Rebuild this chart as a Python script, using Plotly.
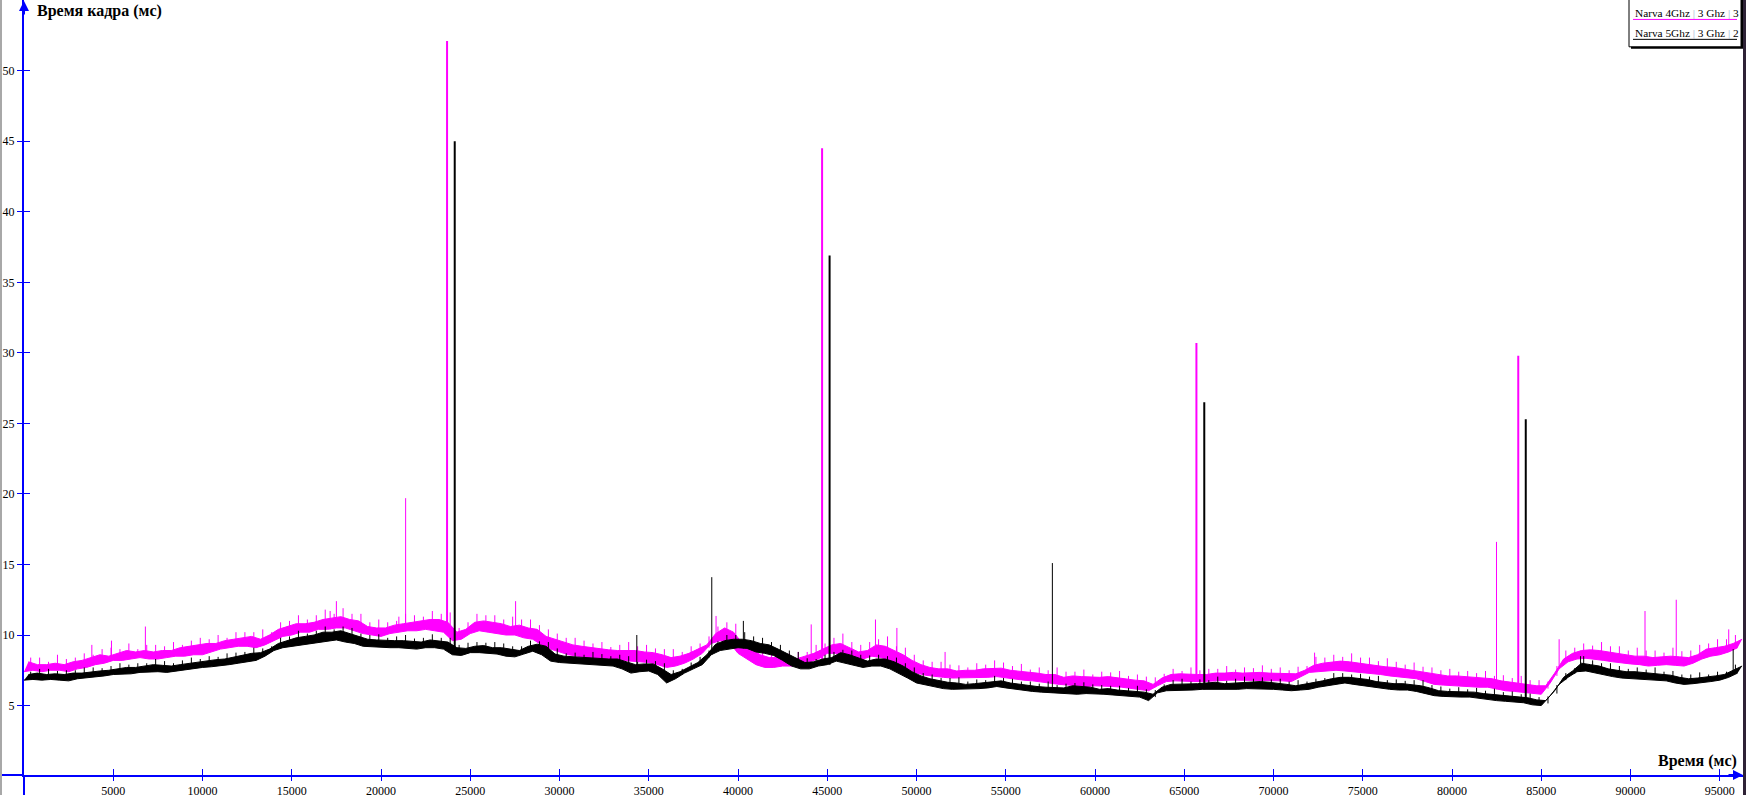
"""График времени кадра: два прогона Narva, Plotly."""

import plotly.graph_objects as go

SERIES_NAMES = ["Narva 4Ghz | 3 Ghz | 3", "Narva 5Ghz | 3 Ghz | 2"]
SERIES_COLORS = ["#ff00ff", "#000000"]

# сетка времени, мс: шаг 500, нижняя и верхняя граница полосы "шума"
T_STEP = 500
TIME_MS = list(range(0, 96001, T_STEP))

magenta_lo = [
    7.4, 7.5, 7.4, 7.5, 7.5, 7.4, 7.6, 7.7, 7.9, 8.0, 8.2, 8.2, 8.3, 8.4, 8.3, 8.3, 8.4, 8.5, 8.5, 8.6,
    8.6, 8.8, 9.0, 9.1, 9.2, 9.2, 9.1, 9.3, 9.6, 9.9, 10.0, 10.2, 10.2, 10.4, 10.4, 10.5, 10.5, 10.3, 10.1, 10.0,
    9.9, 10.1, 10.2, 10.3, 10.3, 10.4, 10.3, 10.2, 9.6, 9.7, 10.1, 10.3, 10.2, 10.1, 10.0, 10.0, 9.8, 9.7, 9.3, 9.0,
    8.8, 8.6, 8.5, 8.4, 8.3, 8.3, 8.2, 8.2, 8.15, 8.1, 8.05, 7.9, 7.7, 7.8, 8.0, 8.3, 8.7, 9.4, 9.6, 9.5,
    8.7, 8.3, 7.9, 7.7, 7.7, 7.8, 7.8, 8.0, 8.1, 8.3, 8.7, 8.7, 8.4, 8.2, 8.3, 8.5, 8.4, 8.2, 7.9, 7.6,
    7.3, 7.15, 7.05, 7.0, 6.95, 6.95, 7.0, 7.0, 7.0, 7.05, 6.95, 6.9, 6.8, 6.75, 6.65, 6.6, 6.5, 6.45, 6.4, 6.35,
    6.4, 6.4, 6.35, 6.3, 6.2, 6.15, 6.05, 6.4, 6.7, 6.75, 6.7, 6.7, 6.7, 6.75, 6.75, 6.8, 6.8, 6.8, 6.75, 6.75,
    6.75, 6.75, 6.7, 7.0, 7.35, 7.4, 7.45, 7.5, 7.45, 7.4, 7.3, 7.25, 7.2, 7.1, 7.05, 7.0, 6.9, 6.7, 6.5, 6.45,
    6.4, 6.4, 6.35, 6.3, 6.3, 6.15, 6.05, 6.0, 5.95, 5.85, 5.8, 6.6, 7.6, 8.1, 8.3, 8.35, 8.3, 8.2, 8.1, 8.0,
    7.95, 7.9, 7.8, 7.85, 7.9, 7.85, 7.8, 8.0, 8.3, 8.5, 8.6, 8.8, 9.1,
]
magenta_hi = [
    8.1, 7.9, 7.9, 8.0, 7.9, 8.1, 8.2, 8.4, 8.6, 8.5, 8.7, 8.9, 8.8, 8.9, 8.8, 8.9, 8.9, 9.1, 9.2, 9.3,
    9.4, 9.4, 9.6, 9.7, 9.8, 9.9, 9.7, 10.0, 10.4, 10.6, 10.8, 10.8, 10.9, 11.1, 11.2, 11.3, 11.1, 11.0, 10.6, 10.5,
    10.5, 10.7, 10.8, 10.9, 11.0, 11.1, 11.1, 10.9, 10.2, 10.4, 10.9, 11.0, 10.9, 10.8, 10.6, 10.7, 10.5, 10.4, 9.9, 9.7,
    9.5, 9.3, 9.2, 9.1, 9.0, 8.95, 8.9, 8.9, 8.9, 8.8, 8.75, 8.6, 8.4, 8.5, 8.7, 9.0, 9.3, 10.1, 10.5, 10.2,
    9.4, 9.0, 8.6, 8.4, 8.4, 8.3, 8.3, 8.5, 8.7, 9.0, 9.3, 9.4, 9.1, 8.8, 8.9, 9.3, 9.2, 8.9, 8.6, 8.2,
    7.9, 7.7, 7.6, 7.6, 7.45, 7.5, 7.5, 7.6, 7.6, 7.65, 7.5, 7.45, 7.35, 7.3, 7.2, 7.2, 7.0, 7.1, 7.05, 7.0,
    7.0, 7.05, 6.95, 6.9, 6.8, 6.75, 6.5, 6.95, 7.2, 7.25, 7.2, 7.2, 7.2, 7.3, 7.3, 7.35, 7.3, 7.35, 7.35, 7.3,
    7.3, 7.3, 7.25, 7.5, 7.85, 8.0, 8.1, 8.15, 8.1, 8.0, 7.9, 7.85, 7.75, 7.7, 7.6, 7.55, 7.45, 7.3, 7.2, 7.1,
    7.1, 7.05, 7.0, 6.95, 6.9, 6.75, 6.65, 6.6, 6.5, 6.4, 6.4, 7.3, 8.3, 8.7, 8.9, 8.95, 8.9, 8.8, 8.7, 8.6,
    8.5, 8.5, 8.4, 8.45, 8.5, 8.45, 8.4, 8.6, 9.0, 9.1, 9.2, 9.4, 9.7,
]
# высота мелких "волосков" над верхней границей полосы
magenta_hair = [
    0.3, 0.5, 0.2, 0.6, 0.4, 0.3, 0.5, 0.2, 0.4, 0.6, 0.3, 0.5, 0.2, 0.4, 0.5, 0.3, 0.6, 0.2, 0.4, 0.5,
    0.3, 0.6, 0.2, 0.5, 0.4, 0.3, 0.7, 0.2, 0.5, 0.4, 0.6, 0.3, 0.5, 0.7, 0.3, 0.6, 0.4, 0.5, 0.3, 0.6,
    0.4, 0.3, 0.7, 0.5, 0.3, 0.6, 0.4, 0.7, 0.3, 0.5, 0.6, 0.4, 0.5, 0.3, 0.7, 0.4, 0.6, 0.3, 0.5, 0.4,
    0.3, 0.5, 0.4, 0.3, 0.5, 0.2, 0.4, 0.6, 0.3, 0.5, 0.3, 0.4, 0.6, 0.3, 0.5, 0.4, 0.6, 0.5, 0.4, 0.6,
    0.3, 0.5, 0.4, 0.6, 0.3, 0.4, 0.5, 0.3, 0.6, 0.4, 0.5, 0.7, 0.4, 0.5, 0.6, 0.4, 0.7, 0.3, 0.5, 0.4,
    0.3, 0.4, 0.5, 0.3, 0.4, 0.2, 0.5, 0.3, 0.6, 0.4, 0.3, 0.5, 0.2, 0.4, 0.3, 0.5, 0.4, 0.3, 0.5, 0.2,
    0.4, 0.3, 0.5, 0.2, 0.4, 0.3, 0.5, 0.3, 0.4, 0.2, 0.5, 0.3, 0.4, 0.3, 0.5, 0.2, 0.4, 0.3, 0.5, 0.3,
    0.4, 0.2, 0.5, 0.3, 0.6, 0.4, 0.5, 0.3, 0.6, 0.4, 0.5, 0.3, 0.6, 0.4, 0.3, 0.5, 0.3, 0.4, 0.3, 0.5,
    0.3, 0.4, 0.3, 0.5, 0.2, 0.4, 0.3, 0.5, 0.3, 0.4, 0.3, 0.5, 0.6, 0.4, 0.5, 0.3, 0.6, 0.4, 0.5, 0.3,
    0.6, 0.4, 0.5, 0.3, 0.6, 0.4, 0.5, 0.7, 0.4, 0.6, 0.5, 0.6, 0.4,
]
black_lo = [
    6.8, 6.85, 6.8, 6.85, 6.8, 6.75, 6.9, 6.95, 7.0, 7.1, 7.2, 7.2, 7.25, 7.35, 7.4, 7.4, 7.35, 7.45, 7.55, 7.6,
    7.7, 7.75, 7.8, 7.9, 8.0, 8.1, 8.2, 8.5, 8.9, 9.1, 9.2, 9.3, 9.4, 9.5, 9.6, 9.65, 9.5, 9.4, 9.2, 9.15,
    9.1, 9.1, 9.1, 9.05, 9.0, 9.1, 9.1, 9.0, 8.6, 8.55, 8.75, 8.75, 8.7, 8.65, 8.5, 8.45, 8.65, 8.85, 8.6, 8.15,
    8.05, 8.0, 7.95, 7.95, 7.9, 7.85, 7.8, 7.6, 7.3, 7.4, 7.45, 7.2, 6.6, 6.9, 7.3, 7.6, 7.9, 8.6, 8.9, 9.0,
    9.1, 9.05, 8.8, 8.7, 8.55, 8.2, 7.8, 7.6, 7.6, 7.8, 7.9, 8.15, 8.0, 7.9, 7.7, 7.8, 7.8, 7.6, 7.3, 6.95,
    6.6, 6.45, 6.3, 6.2, 6.15, 6.15, 6.15, 6.2, 6.25, 6.35, 6.25, 6.15, 6.05, 6.0, 5.95, 5.9, 5.85, 5.85, 5.8, 5.85,
    5.85, 5.8, 5.75, 5.7, 5.65, 5.6, 5.35, 5.9, 6.05, 6.05, 6.05, 6.1, 6.15, 6.15, 6.1, 6.15, 6.15, 6.2, 6.2, 6.15,
    6.15, 6.1, 6.05, 6.1, 6.15, 6.3, 6.4, 6.55, 6.6, 6.5, 6.4, 6.3, 6.2, 6.15, 6.1, 6.1, 6.0, 5.85, 5.7, 5.65,
    5.6, 5.6, 5.6, 5.5, 5.45, 5.35, 5.3, 5.25, 5.2, 5.05, 5.0, 5.7, 6.5, 7.0, 7.4, 7.45, 7.3, 7.15, 7.05, 6.95,
    6.9, 6.9, 6.85, 6.8, 6.75, 6.6, 6.5, 6.55, 6.6, 6.7, 6.8, 7.0, 7.3,
]
black_hi = [
    7.2, 7.3, 7.2, 7.25, 7.2, 7.3, 7.3, 7.4, 7.45, 7.5, 7.6, 7.7, 7.7, 7.8, 7.9, 7.85, 7.8, 7.9, 8.0, 8.1,
    8.2, 8.25, 8.3, 8.45, 8.6, 8.7, 8.75, 9.0, 9.4, 9.6, 9.8, 9.9, 10.0, 10.2, 10.2, 10.3, 10.1, 9.9, 9.7, 9.65,
    9.6, 9.6, 9.6, 9.55, 9.5, 9.65, 9.6, 9.5, 9.1, 9.05, 9.2, 9.25, 9.1, 9.1, 9.0, 8.9, 9.2, 9.35, 9.2, 8.65,
    8.5, 8.45, 8.4, 8.4, 8.35, 8.3, 8.3, 8.1, 7.9, 7.95, 7.95, 7.6, 7.2, 7.4, 7.75, 8.05, 8.6, 9.35, 9.6, 9.7,
    9.7, 9.6, 9.4, 9.3, 9.0, 8.7, 8.4, 8.05, 8.1, 8.3, 8.4, 8.75, 8.6, 8.4, 8.15, 8.3, 8.3, 8.1, 7.8, 7.4,
    7.1, 6.9, 6.75, 6.65, 6.6, 6.5, 6.55, 6.6, 6.7, 6.75, 6.6, 6.5, 6.4, 6.35, 6.3, 6.25, 6.25, 6.4, 6.35, 6.3,
    6.15, 6.2, 6.1, 6.05, 6.0, 5.95, 5.8, 6.3, 6.5, 6.5, 6.5, 6.55, 6.6, 6.65, 6.55, 6.6, 6.65, 6.7, 6.7, 6.65,
    6.6, 6.5, 6.4, 6.5, 6.6, 6.75, 6.9, 7.0, 7.0, 6.95, 6.85, 6.7, 6.6, 6.55, 6.55, 6.5, 6.4, 6.25, 6.05, 6.0,
    6.0, 5.95, 5.95, 5.85, 5.8, 5.75, 5.7, 5.6, 5.55, 5.4, 5.35, 6.05, 7.0, 7.45, 8.0, 7.9, 7.8, 7.6, 7.5, 7.4,
    7.4, 7.35, 7.3, 7.2, 7.15, 7.0, 6.9, 6.95, 7.0, 7.1, 7.2, 7.5, 7.8,
]
black_hair = [
    0.2, 0.3, 0.4, 0.2, 0.3, 0.2, 0.4, 0.3, 0.2, 0.3, 0.4, 0.2, 0.3, 0.2, 0.4, 0.3, 0.2, 0.3, 0.4, 0.2,
    0.3, 0.2, 0.4, 0.3, 0.2, 0.4, 0.3, 0.2, 0.4, 0.3, 0.5, 0.2, 0.3, 0.4, 0.2, 0.3, 0.4, 0.2, 0.3, 0.4,
    0.2, 0.3, 0.4, 0.2, 0.3, 0.4, 0.2, 0.3, 0.2, 0.4, 0.3, 0.2, 0.4, 0.3, 0.2, 0.3, 0.4, 0.2, 0.3, 0.4,
    0.2, 0.3, 0.2, 0.4, 0.3, 0.2, 0.3, 0.4, 0.2, 0.3, 0.2, 0.4, 0.3, 0.2, 0.3, 0.4, 0.3, 0.2, 0.4, 0.3,
    0.5, 0.3, 0.4, 0.2, 0.3, 0.2, 0.4, 0.3, 0.2, 0.3, 0.4, 0.2, 0.3, 0.2, 0.4, 0.3, 0.2, 0.3, 0.2, 0.3,
    0.2, 0.3, 0.2, 0.3, 0.4, 0.2, 0.3, 0.2, 0.4, 0.2, 0.3, 0.2, 0.3, 0.2, 0.4, 0.2, 0.3, 0.2, 0.3, 0.2,
    0.3, 0.2, 0.3, 0.2, 0.4, 0.2, 0.3, 0.2, 0.3, 0.4, 0.2, 0.3, 0.2, 0.4, 0.2, 0.3, 0.4, 0.2, 0.3, 0.2,
    0.3, 0.2, 0.4, 0.2, 0.3, 0.2, 0.4, 0.3, 0.2, 0.3, 0.2, 0.4, 0.2, 0.3, 0.2, 0.3, 0.4, 0.2, 0.3, 0.2,
    0.3, 0.2, 0.3, 0.2, 0.4, 0.2, 0.3, 0.2, 0.3, 0.2, 0.3, 0.4, 0.3, 0.2, 0.5, 0.3, 0.2, 0.4, 0.3, 0.2,
    0.3, 0.2, 0.4, 0.2, 0.3, 0.2, 0.3, 0.4, 0.2, 0.3, 0.2, 0.4, 0.3,
]

# отдельные выбросы (пики), мс и значение
magenta_spike_t = [3800, 4900, 6800, 17150, 17500, 21000, 21380, 23700, 27540, 38770, 44100, 44710,
                   47700, 48900, 51600, 65680, 72300, 82490, 83710, 86000, 90810, 92560, 95500]
magenta_spike_v = [9.3, 9.6, 10.6, 11.7, 12.4, 11.3, 19.7, 52.1, 12.4, 11.35, 10.75, 44.5,
                   11.1, 10.5, 8.8, 30.7, 8.75, 16.6, 29.8, 9.7, 11.7, 12.5, 10.4]
black_spike_t = [24130, 34330, 38530, 40300, 45130, 57610, 66120, 84130, 87200, 95750]
black_spike_v = [45.0, 10.0, 14.1, 11.0, 36.9, 15.1, 26.5, 25.3, 8.5, 9.0]

X_TICKS = list(range(5000, 95001, 5000))
Y_TICKS = [5, 10, 15, 20, 25, 30, 35, 40, 45, 50]

W, H = 1746, 798
L, R, T, B = 24, 3, 0, 20
AXIS_BLUE = "#0000ff"
FONT = "Liberation Serif"


def px_x(px):
    return (px - L) / (W - L - R)


def px_y(py):
    return (H - B - py) / (H - T - B)


def add_series(fig, lo, hi, hair, spike_t, spike_v, name, color):
    """Полоса шума (заливка между lo и hi), волоски над ней и пики вертикальными штрихами."""
    fig.add_trace(go.Scatter(
        x=TIME_MS, y=lo, mode="lines", line=dict(color=color, width=1),
        hoverinfo="skip", showlegend=False,
    ))
    fig.add_trace(go.Scatter(
        x=[t + T_STEP // 2 for t in TIME_MS], y=hi, name=name, mode="lines",
        line=dict(color=color, width=1), fill="tonexty", fillcolor=color,
        hoverinfo="skip", showlegend=False,
    ))
    # волоски: штрих от верхней границы на величину hair
    hx, hy = [], []
    for t, h, d in zip(TIME_MS, hi, hair):
        hx += [t + 3 * T_STEP // 4, t + 3 * T_STEP // 4, None]
        hy += [h - 0.2, h + d, None]
    fig.add_trace(go.Scatter(
        x=hx, y=hy, mode="lines", line=dict(color=color, width=1),
        hoverinfo="skip", showlegend=False,
    ))
    for big in (False, True):
        xs, ys = [], []
        for t, v in zip(spike_t, spike_v):
            if (v >= 20) != big:
                continue
            base = lo[min(len(lo) - 1, round(t / T_STEP))]
            xs += [t, t, None]
            ys += [base, v, None]
        fig.add_trace(go.Scatter(
            x=xs, y=ys, mode="lines", line=dict(color=color, width=2 if big else 1),
            hoverinfo="skip", showlegend=False,
        ))


fig = go.Figure()
add_series(fig, magenta_lo, magenta_hi, magenta_hair, magenta_spike_t, magenta_spike_v,
           SERIES_NAMES[0], SERIES_COLORS[0])
add_series(fig, black_lo, black_hi, black_hair, black_spike_t, black_spike_v,
           SERIES_NAMES[1], SERIES_COLORS[1])
# пустой след на наложенных осях, чтобы риски пересекали ось
fig.add_trace(go.Scatter(x=[], y=[], xaxis="x2", yaxis="y2", showlegend=False, hoverinfo="skip"))

axis_common = dict(showgrid=False, zeroline=False, tickcolor=AXIS_BLUE, tickwidth=1)
tick_font = dict(family=FONT, size=12, color="#000000")
fig.update_layout(
    width=W, height=H,
    margin=dict(l=L, r=R, t=T, b=B, pad=0),
    paper_bgcolor="white", plot_bgcolor="white",
    font=dict(family=FONT, size=12, color="#000000"),
    xaxis=dict(range=[0, 96300], tickvals=X_TICKS, ticktext=[str(v) for v in X_TICKS],
               ticks="outside", ticklen=4, showline=True, linecolor=AXIS_BLUE, linewidth=2,
               tickfont=tick_font, **axis_common),
    yaxis=dict(range=[0.077, 55.01], tickvals=Y_TICKS, ticktext=[str(v) for v in Y_TICKS],
               ticks="outside", ticklen=5, showline=True, linecolor=AXIS_BLUE, linewidth=2,
               tickfont=tick_font, **axis_common),
    xaxis2=dict(range=[0, 96300], tickvals=X_TICKS, ticks="inside", ticklen=6,
                overlaying="x", anchor="y2", side="bottom", showticklabels=False, **axis_common),
    yaxis2=dict(range=[0.077, 55.01], tickvals=Y_TICKS, ticks="inside", ticklen=6,
                overlaying="y", anchor="x2", side="left", showticklabels=False, **axis_common),
)

annotations = [
    dict(text="<b>Время кадра (мс)</b>", x=px_x(35), y=px_y(0), xref="paper", yref="paper",
         xanchor="left", yanchor="top", showarrow=False,
         font=dict(family=FONT, size=16, color="#000000")),
    dict(text="<b>Время (мс)</b>", x=px_x(1739), y=px_y(764), xref="paper", yref="paper",
         xanchor="right", yanchor="middle", showarrow=False,
         font=dict(family=FONT, size=16, color="#000000")),
    # стрелки осей
    dict(text="", x=0, y=1, xref="paper", yref="paper", ax=0, ay=16, showarrow=True,
         arrowhead=2, arrowsize=1, arrowwidth=2, arrowcolor=AXIS_BLUE),
    dict(text="", x=1, y=0, xref="paper", yref="paper", ax=-16, ay=0, showarrow=True,
         arrowhead=2, arrowsize=1, arrowwidth=2, arrowcolor=AXIS_BLUE),
]

shapes = [
    # продолжения осей за угол
    dict(type="line", xref="paper", yref="paper", x0=px_x(24), x1=px_x(24), y0=px_y(778), y1=px_y(798),
         line=dict(color=AXIS_BLUE, width=2)),
    dict(type="line", xref="paper", yref="paper", x0=px_x(0), x1=px_x(24), y0=px_y(778), y1=px_y(778),
         line=dict(color=AXIS_BLUE, width=2)),
    # рамка окна
    dict(type="rect", xref="paper", yref="paper", x0=px_x(0), x1=px_x(2), y0=px_y(0), y1=px_y(798),
         fillcolor="#a8a8a8", line=dict(width=0)),
    dict(type="rect", xref="paper", yref="paper", x0=px_x(1743), x1=px_x(1746), y0=px_y(0), y1=px_y(798),
         fillcolor="#2e2236", line=dict(width=0)),
    # рамка легенды с тенью
    dict(type="rect", xref="paper", yref="paper", x0=px_x(1631), x1=px_x(1743), y0=px_y(49), y1=px_y(0),
         fillcolor="#000000", line=dict(width=0)),
    dict(type="rect", xref="paper", yref="paper", x0=px_x(1629), x1=px_x(1741), y0=px_y(47), y1=px_y(-2),
         fillcolor="#ffffff", line=dict(color="#000000", width=1)),
]

SEP = "<span style='color:#9db3d3'>|</span>"
for i, (name, color) in enumerate(zip(SERIES_NAMES, SERIES_COLORS)):
    yc = 13 + 20 * i
    annotations.append(dict(
        text=name.replace("|", SEP), x=px_x(1633), y=px_y(yc), xref="paper", yref="paper",
        xanchor="left", yanchor="middle", showarrow=False,
        font=dict(family=FONT, size=11.3, color="#000000"),
    ))
    shapes.append(dict(type="line", xref="paper", yref="paper", x0=px_x(1633), x1=px_x(1737),
                       y0=px_y(yc + 6.5), y1=px_y(yc + 6.5), line=dict(color=color, width=1)))

fig.update_layout(annotations=annotations, shapes=shapes)

fig.write_html(
    "out.html",
    config={"displayModeBar": False},
    post_script="document.body.style.margin='0';document.body.style.overflow='hidden';",
)
